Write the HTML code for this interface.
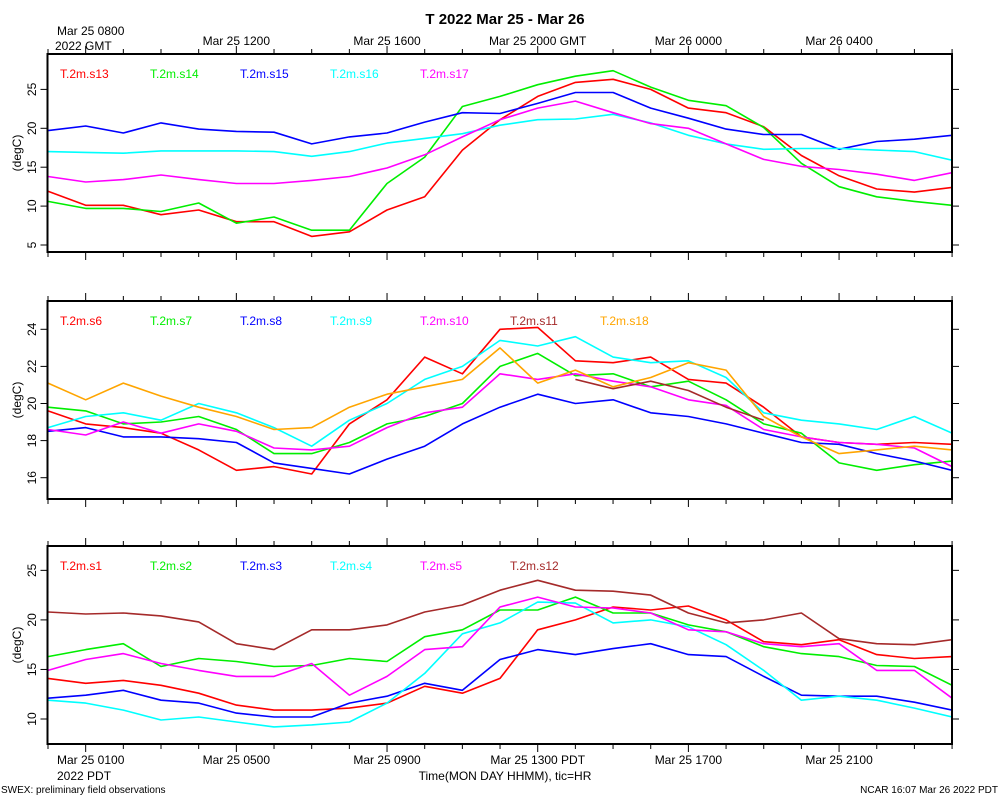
<!DOCTYPE html>
<html><head><meta charset="utf-8"><style>
body{margin:0;background:#fff;}
svg{display:block;font-family:"Liberation Sans",sans-serif;}
</style></head><body>
<svg id="chart" width="1000" height="800" viewBox="0 0 1000 800" xmlns="http://www.w3.org/2000/svg">
<text x="505" y="24" font-size="15" font-weight="bold" text-anchor="middle">T 2022 Mar 25 - Mar 26</text>
<text x="57" y="35" font-size="12">Mar 25 0800</text>
<text x="55" y="50" font-size="12">2022 GMT</text>
<text x="505" y="780" font-size="12" text-anchor="middle">Time(MON DAY HHMM), tic=HR</text>
<text x="57" y="780" font-size="12">2022 PDT</text>
<text x="1" y="793" font-size="10">SWEX: preliminary field observations</text>
<text x="998" y="793" font-size="10" text-anchor="end">NCAR 16:07 Mar 26 2022 PDT</text>
</svg>
<script>
// ---- data (hourly, hour 0..24 PDT) ----
const hours = [0,1,2,3,4,5,6,7,8,9,10,11,12,13,14,15,16,17,18,19,20,21,22,23,24];
const topTickLabels = ["Mar 25 1200","Mar 25 1600","Mar 25 2000 GMT","Mar 26 0000","Mar 26 0400"];
const bottomTickLabels = ["Mar 25 0100","Mar 25 0500","Mar 25 0900","Mar 25 1300 PDT","Mar 25 1700","Mar 25 2100"];
const majorTickHours = [1,5,9,13,17,21];

// panel 1
const s13 = [11.9,10.1,10.1,8.9,9.5,8.0,8.0,6.1,6.7,9.5,11.2,17.2,21.1,24.1,25.9,26.3,25.0,22.6,22.0,20.2,16.5,13.9,12.2,11.8,12.4];
const s14 = [10.6,9.7,9.7,9.3,10.4,7.8,8.6,6.9,6.9,12.9,16.3,22.8,24.1,25.6,26.7,27.4,25.3,23.6,22.9,20.1,15.5,12.5,11.2,10.6,10.1];
const s15 = [19.7,20.3,19.4,20.7,19.9,19.6,19.5,18.0,18.9,19.4,20.8,22.0,21.9,23.2,24.6,24.6,22.6,21.3,19.9,19.2,19.2,17.3,18.3,18.6,19.1];
const s16 = [17.0,16.9,16.8,17.1,17.1,17.1,17.0,16.4,17.0,18.1,18.7,19.3,20.4,21.1,21.2,21.8,20.7,19.1,18.0,17.3,17.4,17.4,17.2,17.0,15.9];
const s17 = [13.8,13.1,13.4,14.0,13.4,12.9,12.9,13.3,13.8,14.9,16.6,18.9,21.1,22.6,23.5,22.0,20.6,20.0,18.0,16.0,15.1,14.7,14.1,13.3,14.3];
// panel 2
const s6  = [19.6,18.9,18.7,18.4,17.5,16.4,16.6,16.2,18.9,20.2,22.5,21.6,24.0,24.1,22.3,22.2,22.5,21.3,21.1,19.8,18.2,17.9,17.8,17.9,17.8];
const s7  = [19.8,19.6,18.9,19.0,19.3,18.6,17.3,17.3,17.9,18.9,19.3,20.0,22.0,22.7,21.5,21.6,20.9,21.2,20.2,18.9,18.4,16.8,16.4,16.7,16.9];
const s8  = [18.5,18.7,18.2,18.2,18.1,17.9,16.8,16.5,16.2,17.0,17.7,18.9,19.8,20.5,20.0,20.2,19.5,19.3,18.9,18.4,17.9,17.8,17.3,16.9,16.4];
const s9  = [18.7,19.3,19.5,19.1,20.0,19.5,18.7,17.7,19.1,20.0,21.3,22.0,23.4,23.1,23.6,22.5,22.2,22.3,21.4,19.5,19.1,18.9,18.6,19.3,18.4];
const s10 = [18.6,18.3,19.0,18.4,18.9,18.5,17.6,17.5,17.7,18.7,19.5,19.8,21.6,21.3,21.6,21.2,20.9,20.2,19.9,18.6,18.2,17.9,17.8,17.6,16.6];
const s11 = [null,null,null,null,null,null,null,null,null,null,null,null,null,null,21.3,20.8,21.2,20.7,19.8,19.1,null,null,null,null,null];
const s18 = [21.1,20.2,21.1,20.4,19.8,19.3,18.6,18.7,19.8,20.5,20.9,21.3,23.0,21.1,21.8,20.9,21.4,22.2,21.8,19.3,18.2,17.3,17.5,17.7,17.5];
// panel 3
const s1 = [14.1,13.6,13.9,13.4,12.6,11.4,10.9,10.9,11.1,11.6,13.3,12.6,14.1,19.0,20.0,21.3,21.0,21.4,20.0,17.8,17.5,18.0,16.5,16.1,16.3];
const s2 = [16.3,17.0,17.6,15.3,16.1,15.8,15.3,15.4,16.1,15.8,18.3,19.0,21.0,21.0,22.3,20.7,20.7,19.5,18.8,17.3,16.6,16.3,15.4,15.3,13.4];
const s3 = [12.1,12.4,12.9,11.9,11.6,10.6,10.2,10.2,11.6,12.3,13.6,12.9,16.0,17.0,16.5,17.1,17.6,16.5,16.3,14.3,12.4,12.3,12.3,11.7,10.9];
const s4 = [11.9,11.6,10.9,9.9,10.2,9.7,9.2,9.4,9.7,11.6,14.6,18.6,19.7,21.8,21.7,19.7,20.0,19.3,17.5,14.9,11.9,12.3,11.9,11.1,10.2];
const s5 = [14.9,16.0,16.6,15.6,14.9,14.3,14.3,15.6,12.4,14.3,17.0,17.3,21.3,22.3,21.3,21.2,20.7,19.0,18.8,17.6,17.3,17.6,14.9,14.9,12.1];
const s12 = [20.8,20.6,20.7,20.4,19.8,17.6,17.0,19.0,19.0,19.5,20.8,21.5,23.0,24.0,23.0,22.9,22.5,20.7,19.7,20.0,20.7,18.1,17.6,17.5,18.0];

const C = {red:"#ff0000",green:"#00ee00",blue:"#0000ff",cyan:"#00ffff",mag:"#ff00ff",orange:"#ffa500",brown:"#a52a2a"};
const panels = [
  {name:"panel-top", top:54, bottom:252, vmin:4.1, vmax:29.4, ticks:[5,10,15,20,25], v0:5, y0:245, ppu:7.78,
   series:[["T.2m.s13",s13,C.red],["T.2m.s14",s14,C.green],["T.2m.s15",s15,C.blue],["T.2m.s16",s16,C.cyan],["T.2m.s17",s17,C.mag]]},
  {name:"panel-middle", top:301, bottom:499, ticks:[16,18,20,22,24], v0:16, y0:477.7, ppu:18.55,
   series:[["T.2m.s6",s6,C.red],["T.2m.s7",s7,C.green],["T.2m.s8",s8,C.blue],["T.2m.s9",s9,C.cyan],["T.2m.s10",s10,C.mag],["T.2m.s11",s11,C.brown],["T.2m.s18",s18,C.orange]]},
  {name:"panel-bottom", top:546, bottom:744, ticks:[10,15,20,25], v0:10, y0:719, ppu:9.91,
   series:[["T.2m.s1",s1,C.red],["T.2m.s2",s2,C.green],["T.2m.s3",s3,C.blue],["T.2m.s4",s4,C.cyan],["T.2m.s5",s5,C.mag],["T.2m.s12",s12,C.brown]]}
];
const X0=47.5, X1=952;
function xOf(h){return 48+h*37.67;}
const svg=document.getElementById('chart');
const NS="http://www.w3.org/2000/svg";
function mk(tag,attrs,parent){const e=document.createElementNS(NS,tag);for(const k in attrs)e.setAttribute(k,attrs[k]);(parent||svg).appendChild(e);return e;}

panels.forEach((p,pi)=>{
  const yOf=v=>p.y0-(v-p.v0)*p.ppu;
  const g=mk('g',{});
  
  
  // clip
  const cp=mk('clipPath',{id:'clip'+pi},g);
  mk('rect',{x:X0,y:p.top,width:X1-X0,height:p.bottom-p.top},cp);
  // series
  p.series.forEach((s,si)=>{
    let d="",pen=false;
    s[1].forEach((v,i)=>{
      if(v===null){pen=false;return;}
      d+=(pen?"L":"M")+xOf(hours[i]).toFixed(1)+","+yOf(v).toFixed(1);pen=true;
    });
    const path=mk('path',{d:d,fill:"none",stroke:s[2],"stroke-width":1.6,"stroke-linejoin":"round","clip-path":"url(#clip"+pi+")"},g);
    
    
    const t=mk('text',{x:60+si*90,y:p.top+24,"font-size":12,fill:s[2]},g);
    t.textContent=s[0];
    
    
  });
  // frame
  const fr=mk('rect',{x:X0,y:p.top,width:X1-X0,height:p.bottom-p.top,fill:"none",stroke:"#000","stroke-width":2},g);
  
  
  // x ticks top & bottom
  for(let h=0;h<=24;h++){
    const x=xOf(h); const major=majorTickHours.includes(h); const L=major?8:5;
    mk('line',{x1:x,x2:x,y1:p.top,y2:p.top-L,stroke:"#000","stroke-width":1},g);
    mk('line',{x1:x,x2:x,y1:p.bottom,y2:p.bottom+L,stroke:"#000","stroke-width":1},g);
  }
  // y ticks
  p.ticks.forEach(v=>{
    const y=yOf(v);
    mk('line',{x1:X0,x2:X0-7,y1:y,y2:y,stroke:"#000","stroke-width":1},g);
    mk('line',{x1:X1,x2:X1+7,y1:y,y2:y,stroke:"#000","stroke-width":1},g);
    const t=mk('text',{x:36,y:y,"font-size":12,"text-anchor":"middle",transform:"rotate(-90 36 "+y+")"},g);
    t.textContent=String(v);
    
    
  });
  const yc=(p.top+p.bottom)/2;
  const yt=mk('text',{x:21,y:yc,"font-size":12,"text-anchor":"middle",transform:"rotate(-90 21 "+yc+")"},g);
  yt.textContent="(degC)";
  
  
});
// top tick labels (skip first which is drawn statically)
topTickLabels.forEach((s,i)=>{
  const t=mk('text',{x:xOf(majorTickHours[i+1]),y:45,"font-size":12,"text-anchor":"middle"});
  t.textContent=s;
  
  
});
bottomTickLabels.forEach((s,i)=>{
  const t=mk('text',{x:i===0?57:xOf(majorTickHours[i]),y:764,"font-size":12,"text-anchor":i===0?"start":"middle"});
  t.textContent=s;
  
  
});
</script>
</body></html>
